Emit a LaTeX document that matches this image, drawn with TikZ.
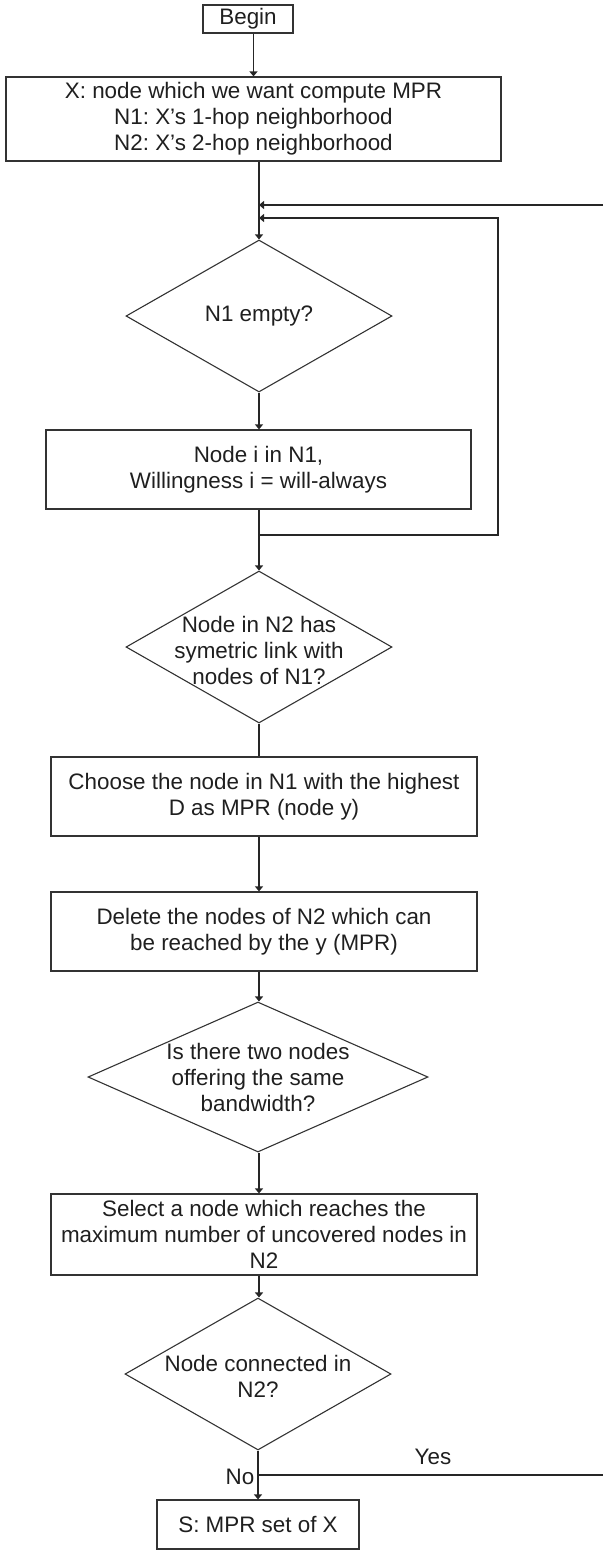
\documentclass[tikz,border=0pt]{standalone}
\usepackage{fontspec}
\setmainfont{Liberation Sans}
\usetikzlibrary{arrows.meta,shapes.geometric}
\frenchspacing

\tikzset{
  every node/.style={font=\fontsize{22.4pt}{26pt}\selectfont, text=black!88},
  box/.style={draw=black!80, line width=1.2pt, rectangle, inner sep=0pt, align=center},
  dia/.style={draw=black!80, line width=1.1pt, diamond, inner sep=0pt, aspect=1},
  dlabel/.style={label distance=0pt, align=center},
  flow/.style={draw=black!85, line width=1.2pt},
  arr/.style={flow, -{Triangle[length=5pt,width=8pt]}},
}

\begin{document}
\begin{tikzpicture}[x=1pt, y=-1pt]
  \useasboundingbox (0,0) rectangle (603,1551);

  % process steps
  \node[box, minimum width=90pt, minimum height=28pt] (begin) at (248,19) {Begin};
  \node[box, minimum width=495pt, minimum height=84pt] (init) at (253.5,119)
    {X: node which we want compute MPR\\N1: X’s 1-hop neighborhood\\N2: X’s 2-hop neighborhood};
  \node[dia, minimum width=266pt, minimum height=152pt, label={[dlabel]center:N1 empty?}] (empty) at (259,316) {};
  \node[box, minimum width=425pt, minimum height=79pt] (will) at (258.5,469.5)
    {Node i in N1,\\Willingness i = will-always};
  \node[dia, minimum width=266pt, minimum height=152pt,
        label={[dlabel, yshift=-3pt]center:Node in N2 has\\symetric link with\\nodes of N1?}] (sym) at (259,647) {};
  \node[box, minimum width=426pt, minimum height=79pt] (choose) at (264,796.5)
    {Choose the node in N1 with the highest\\D as MPR (node y)};
  \node[box, minimum width=426pt, minimum height=79pt] (delete) at (264,931.5)
    {Delete the nodes of N2 which can\\be reached by the y (MPR)};
  \node[dia, minimum width=340pt, minimum height=150pt,
        label={[dlabel]center:Is there two nodes\\offering the same\\bandwidth?}] (bw) at (258,1077) {};
  \node[box, minimum width=426pt, minimum height=81pt] (select) at (264,1234.5)
    {Select a node which reaches the\\maximum number of uncovered nodes in\\N2};
  \node[dia, minimum width=266pt, minimum height=152pt,
        label={[dlabel, yshift=-2pt]center:Node connected in\\N2?}] (conn) at (258,1374) {};
  \node[box, minimum width=202pt, minimum height=49pt] (result) at (258,1524.5) {S: MPR set of X};

  % branch labels
  \node (yes) at (433,1457) {Yes};
  \node (no) at (240,1477) {No};

  % junction points of the loops
  \coordinate (fbA) at (259,205);
  \coordinate (fbB) at (259,218);
  \coordinate (edgeA) at (603,205);
  \coordinate (loop) at (259,535);
  \coordinate (loopR) at (498,535);
  \coordinate (split) at (258,1475);
  \coordinate (edgeB) at (603,1475);

  % main flow
  \draw[arr] (begin.south -| init.north) -- (init.north);
  \draw[arr] (init.south -| empty.north) -- (empty.north);
  \draw[arr] (empty.south) -- (will.north -| empty.south);
  \draw[flow] (will.south -| empty.south) -- (loop);
  \draw[arr] (loop) -- (sym.north);
  \draw[flow] (sym.south) -- (choose.north -| sym.south);
  \draw[arr] (choose.south -| sym.south) -- (delete.north -| sym.south);
  \draw[arr] (delete.south -| sym.south) -- (bw.north -| sym.south);
  \draw[arr] (bw.south -| sym.south) -- (select.north -| sym.south);
  \draw[arr] (select.south -| sym.south) -- (conn.north -| sym.south);
  \draw[flow] (conn.south) -- (split);
  \draw[arr] (split) -- (result.north);

  % return paths
  \draw[arr] (loop) -- (loopR) |- (fbB);
  \draw[flow] (split) -- (edgeB);
  \draw[arr] (edgeA) -- (fbA);
\end{tikzpicture}
\end{document}
